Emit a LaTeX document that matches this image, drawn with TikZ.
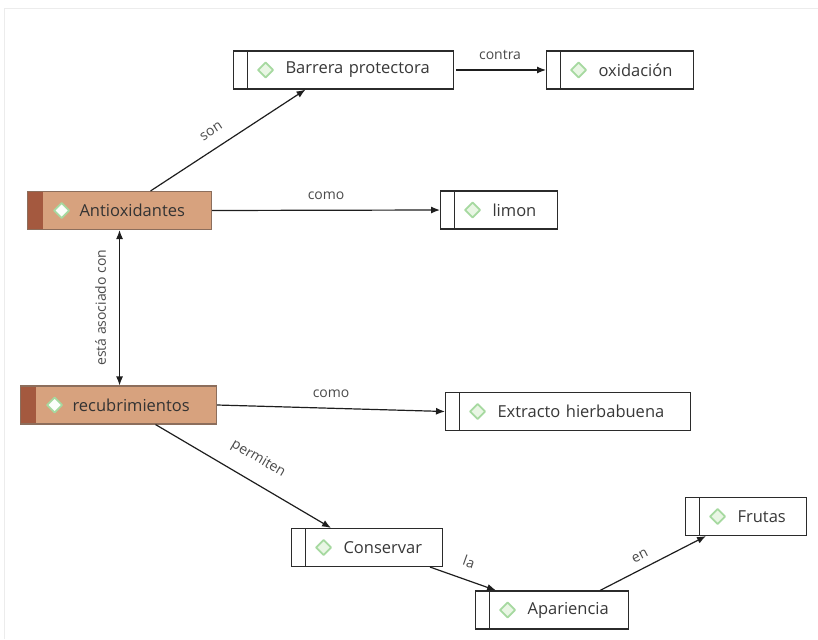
\documentclass[tikz,border=0pt]{standalone}
\usepackage{fontspec}
\setmainfont{Open Sans}
\usetikzlibrary{arrows.meta}

\definecolor{boxline}{HTML}{2B2B2B}
\definecolor{conceptText}{HTML}{383838}
\definecolor{brownfill}{HTML}{D7A27E}
\definecolor{brownline}{HTML}{8C6E5C}
\definecolor{stripbrown}{HTML}{A4593F}
\definecolor{icongreen}{HTML}{A6D9A0}
\definecolor{iconfill}{HTML}{E9F6E4}
\definecolor{labelgray}{HTML}{4A4A4A}
\definecolor{framegray}{HTML}{ECECEC}
\definecolor{linkcol}{HTML}{1E1E1E}

\newcommand\conceptfont{\fontsize{16.5}{19}\selectfont}
\newcommand\linkfont{\fontsize{14}{16}\selectfont}

\tikzset{
  x=1pt, y=-1pt,
  icon/.style={draw=icongreen, fill=iconfill, line width=1.8pt, line join=round},
  basebox/.style={line width=1.1pt, minimum height=38pt, inner xsep=0pt, inner ysep=0pt,
    anchor=west, text width=#1, align=left, font=\conceptfont, text=conceptText},
  whitebox/.style={basebox=#1, draw=boxline, fill=white,
    path picture={
      \draw[line width=1.1pt, boxline]
        ([xshift=14pt]path picture bounding box.north west) --
        ([xshift=14pt]path picture bounding box.south west);
      \draw[icon] ([xshift=32pt]path picture bounding box.west)
        +(-7.5pt,0) -- +(0,7.5pt) -- +(7.5pt,0) -- +(0,-7.5pt) -- cycle;
    }},
  brownbox/.style={basebox=#1, draw=brownline, fill=brownfill, text=black!80,
    path picture={
      \fill[stripbrown] (path picture bounding box.north west) rectangle
        ([xshift=15pt]path picture bounding box.south west);
      \draw[icon, fill=white!85!iconfill] ([xshift=34pt]path picture bounding box.west)
        +(-7.5pt,0) -- +(0,7.5pt) -- +(7.5pt,0) -- +(0,-7.5pt) -- cycle;
    }},
  link/.style={draw=linkcol, line width=1.2pt, -{Latex[length=9pt,width=7pt]}},
  linklabel/.style={font=\linkfont, text=labelgray, inner sep=2pt},
}

\newcommand\ctext[1]{\hspace*{52pt}#1}

\begin{document}
\begin{tikzpicture}
  \useasboundingbox (0,0) rectangle (818,639);
  % outer frame
  \draw[framegray, line width=1.5pt] (4.5,639) -- (4.5,8.5) -- (818,8.5);

  % concepts
  \node[whitebox=220pt] (barrera) at (233,70) {\ctext{Barrera protectora}};
  \node[whitebox=147pt] (oxid) at (546,70) {\ctext{oxidación}};
  \node[brownbox=184pt] (anti) at (27,210.5) {\ctext{Antioxidantes}};
  \node[whitebox=117pt] (limon) at (440,210) {\ctext{limon}};
  \node[brownbox=196pt] (recub) at (20,405) {\ctext{recubrimientos}};
  \node[whitebox=245pt] (extracto) at (445,411.5) {\ctext{Extracto hierbabuena}};
  \node[whitebox=151pt] (conservar) at (291,547.5) {\ctext{Conservar}};
  \node[whitebox=153pt] (apariencia) at (475,610) {\ctext{Apariencia}};
  \node[whitebox=121pt] (frutas) at (685,516.5) {\ctext{Frutas}};

  % links
  \draw[link] ([xshift=31pt]anti.north) -- ([xshift=-38pt]barrera.south)
    node[linklabel, pos=0.45, sloped, above=10pt] {son};
  \draw[link, shorten <=2pt] (barrera.east) -- (oxid.west)
    node[linklabel, midway, above=8pt] {contra};
  \draw[link] (anti.east) -- (limon.west)
    node[linklabel, midway, above=8pt] {como};
  \draw[link, {Latex[length=9pt,width=7pt]}-{Latex[length=9pt,width=7pt]}]
    (anti.south) -- (anti.south |- recub.north)
    node[linklabel, midway, rotate=90, anchor=south, inner sep=13pt] {está asociado con};
  \draw[link] (recub.east) -- (extracto.west)
    node[linklabel, midway, above=8pt] {como};
  \draw[link] ([xshift=37pt]recub.south) -- ([xshift=-36pt]conservar.north)
    node[linklabel, pos=0.52, sloped, above=13pt] {permiten};
  \draw[link] ([xshift=63pt]conservar.south) -- ([xshift=-56pt]apariencia.north)
    node[linklabel, pos=0.5, sloped, above=10pt] {la};
  \draw[link] ([xshift=48pt]apariencia.north) -- ([xshift=-40pt]frutas.south)
    node[linklabel, pos=0.43, sloped, above=6pt] {en};
\end{tikzpicture}
\end{document}
